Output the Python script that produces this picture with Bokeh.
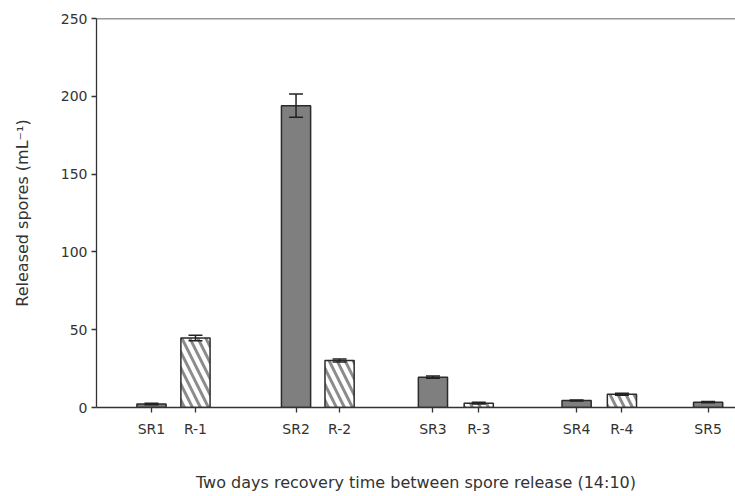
from bokeh.plotting import figure
from bokeh.models import ColumnDataSource, Range1d, FixedTicker, Whisker, Span
from bokeh.embed import file_html
from bokeh.resources import INLINE

categories = ["SR1", "R-1", "SR2", "R-2", "SR3", "R-3", "SR4", "R-4", "SR5"]
positions = [1.0, 1.98, 4.22, 5.19, 7.27, 8.29, 10.47, 11.48, 13.4]
values = [2.3, 44.7, 194.0, 30.2, 19.5, 2.8, 4.5, 8.5, 3.4]
errors = [0.5, 1.8, 7.5, 1.0, 0.7, 0.5, 0.4, 0.6, 0.4]
kinds = ["SR", "R", "SR", "R", "SR", "R", "SR", "R", "SR"]
y_ticks = [0, 50, 100, 150, 200, 250]

FONT = "DejaVu Sans"
TXT = "#333333"

p = figure(width=735, height=494, output_backend="svg", toolbar_location=None,
           x_range=Range1d(-0.225, 14.01), y_range=Range1d(0, 250),
           min_border_left=96, min_border_right=0, min_border_top=18, min_border_bottom=81)
p.outline_line_color = None
p.grid.visible = False
p.background_fill_color = "white"

sr = ColumnDataSource(dict(
    x=[x for x, k in zip(positions, kinds) if k == "SR"],
    top=[v for v, k in zip(values, kinds) if k == "SR"]))
rr = ColumnDataSource(dict(
    x=[x for x, k in zip(positions, kinds) if k == "R"],
    top=[v for v, k in zip(values, kinds) if k == "R"]))

p.vbar(x="x", top="top", bottom=0, width=0.65, source=sr,
       fill_color="#7f7f7f", line_color="#2b2b2b", line_width=1.5)
p.vbar(x="x", top="top", bottom=0, width=0.65, source=rr,
       fill_color="white", line_color="#2b2b2b", line_width=1.5,
       hatch_pattern="\\", hatch_color="#8c8c8c", hatch_scale=16, hatch_weight=3)

es = ColumnDataSource(dict(
    base=positions,
    upper=[v + e for v, e in zip(values, errors)],
    lower=[v - e for v, e in zip(values, errors)]))
w = Whisker(base="base", upper="upper", lower="lower", source=es,
            line_color="#222222", line_width=1.5, level="overlay")
for h in (w.upper_head, w.lower_head):
    h.size = 14
    h.line_color = "#222222"
    h.line_width = 1.5
p.add_layout(w)

p.add_layout(Span(location=250, dimension="width", line_color="#333333", line_width=1.3))

p.xaxis.ticker = FixedTicker(ticks=positions)
p.xaxis.major_label_overrides = {x: c for x, c in zip(positions, categories)}
p.xaxis.minor_tick_line_color = None
p.xaxis.axis_label = "Two days recovery time between spore release (14:10)"
p.xaxis.axis_label_standoff = 33

p.yaxis.ticker = FixedTicker(ticks=y_ticks)
p.yaxis.minor_tick_line_color = None
p.yaxis.axis_label = "Released spores (mL\u207b\u00b9)"
p.yaxis.axis_label_standoff = 26

for ax in (p.xaxis, p.yaxis):
    ax.axis_line_color = "#333333"
    ax.axis_line_width = 1.3
    ax.major_tick_line_color = "#333333"
    ax.major_tick_line_width = 1.3
    ax.major_tick_in = 0
    ax.major_tick_out = 5
    ax.major_label_text_font = FONT
    ax.major_label_text_font_size = "14px"
    ax.major_label_text_color = TXT
    ax.axis_label_text_font = FONT
    ax.axis_label_text_font_size = "16px"
    ax.axis_label_text_font_style = "normal"
    ax.axis_label_text_color = TXT
p.xaxis.major_label_standoff = 8
p.yaxis.major_label_standoff = 4

open("out.html", "w").write(file_html(p, INLINE))
